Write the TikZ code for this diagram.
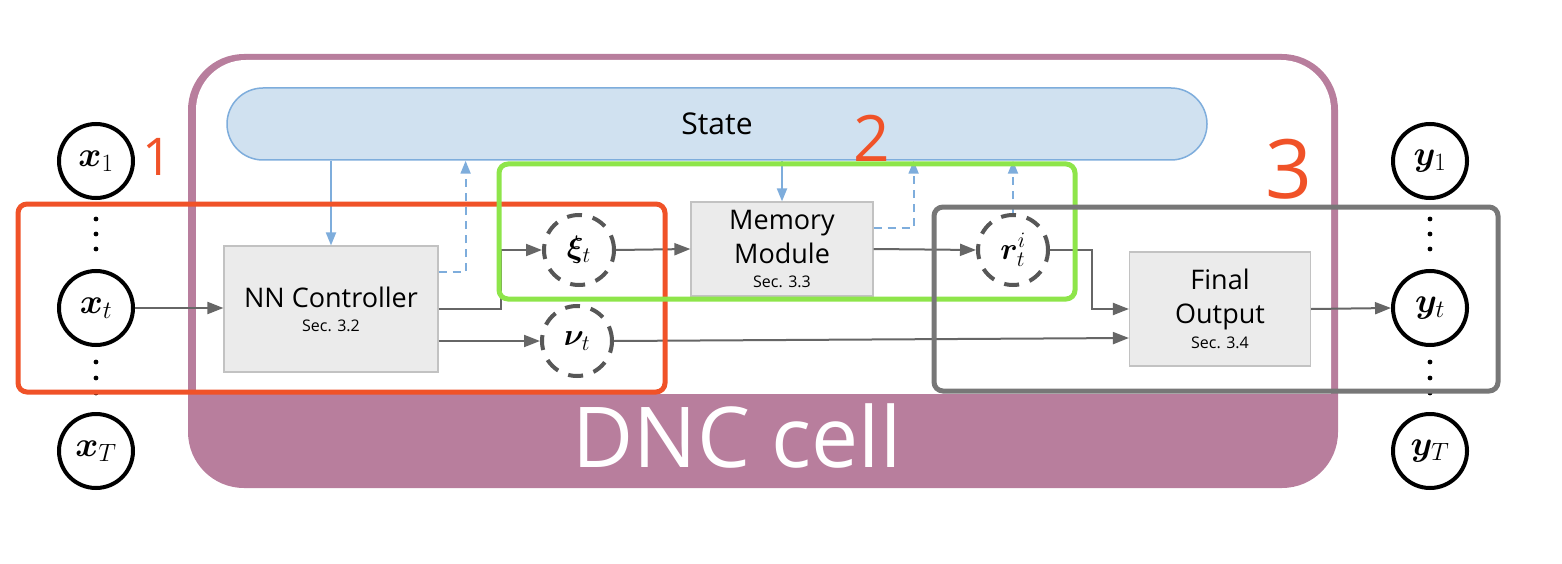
\RequirePackage{fix-cm}
\documentclass[tikz,border=0pt]{standalone}
\usepackage[no-math]{fontspec}
\setmainfont{Open Sans}
\usepackage{bm}
\usetikzlibrary{arrows.meta,calc}
\DeclareMathSizes{35}{35}{25}{18}
\DeclareMathSizes{31}{31}{22}{16}

\definecolor{cellpink}{HTML}{B87E9D}
\definecolor{statefill}{HTML}{D0E1F0}
\definecolor{stateline}{HTML}{7EADDC}
\definecolor{boxfill}{HTML}{EBEBEB}
\definecolor{boxline}{HTML}{C2C2C2}
\definecolor{flowgray}{HTML}{666666}
\definecolor{markorange}{HTML}{F05228}
\definecolor{markgreen}{HTML}{8EE54A}
\definecolor{markgray}{HTML}{777777}

\newcommand{\secsize}{\fontsize{16}{18}\selectfont}

\begin{document}
\begin{tikzpicture}[x=1pt,y=-1pt,
    io/.style={draw, circle, line width=4pt, minimum size=74pt, inner sep=0pt, font=\fontsize{35}{38}\selectfont},
    var/.style={draw=flowgray!85!black, circle, dash pattern=on 15pt off 11pt, line width=4pt, minimum size=70pt, inner sep=0pt, font=\fontsize{31}{34}\selectfont},
    block/.style={draw=boxline, fill=boxfill, line width=1.2pt, align=center, inner sep=0pt, font=\fontsize{27}{34}\selectfont},
    flow/.style={draw=flowgray, line width=2pt, -{Triangle[length=16pt,width=12pt]}},
    sflow/.style={draw=stateline, line width=2pt, -{Triangle[length=13pt,width=10pt]}},
    dflow/.style={sflow, dash pattern=on 8pt off 6pt},
    hl/.style={line width=5pt, rounded corners=9pt},
    hand/.style={text=markorange, inner sep=0pt}]
    \useasboundingbox (0,0) rectangle (1562,564);

    % DNC cell
    \fill[cellpink, rounded corners=56pt] (188,54) rectangle (1338,488);
    \fill[white, rounded corners=50pt] (196,60) rectangle (1331,440);
    \fill[cellpink] (196,394) rectangle (1331,441);
    \node[text=white, font=\fontsize{84}{90}\selectfont] (cell) at (737,436) {DNC cell};

    \node[draw=stateline, fill=statefill, line width=1.5pt, rounded corners=36pt,
          minimum width=980pt, minimum height=72pt, font=\fontsize{30}{36}\selectfont] (state) at (717,124) {State};

    % inputs and outputs
    \node[io] (x1) at (96,161) {$\bm{x}_1$};
    \node[io] (xt) at (96,308) {$\bm{x}_t$};
    \node[io] (xT) at (96,451) {$\bm{x}_T$};
    \node[io] (y1) at (1430,161) {$\bm{y}_1$};
    \node[io] (yt) at (1430,308) {$\bm{y}_t$};
    \node[io] (yT) at (1430,451) {$\bm{y}_T$};
    \foreach \px in {96,1430}
        \foreach \py in {219,234,249,362,378,393}
            \fill (\px,\py) circle (2.4pt);

    \node[block, minimum width=214pt, minimum height=126pt] (nn) at (331,309) {NN Controller\\[-10pt]{\secsize Sec. 3.2}};
    \node[block, minimum width=182pt, minimum height=94pt] (mem) at (782,249) {Memory\\Module\\[-10pt]{\secsize Sec. 3.3}};
    \node[block, minimum width=181pt, minimum height=114pt] (fin) at (1220,309) {Final\\Output\\[-9pt]{\secsize Sec. 3.4}};

    \node[var] (xi) at (579,250) {$\bm{\xi}_t$};
    \node[var] (nu) at (577,341) {$\bm{\nu}_t$};
    \node[var] (r) at (1013,250) {$\bm{r}_t^i$};

    % data flow
    \draw[flow] (xt.east) -- (xt.east -| nn.west);
    \draw[flow] (nn.east) -- ++(62,0) |- (xi.west);
    \draw[flow] ($(nn.east)+(0,32)$) -- (nu.west);
    \draw[flow] (xi.east) -- (mem.west);
    \draw[flow] (mem.east) -- (r.west);
    \draw[flow] (r.east) -- ++(42,0) |- (fin.west);
    \draw[flow] (nu.east) -- ($(fin.west)+(0,29)$);
    \draw[flow] (fin.east) -- (yt.west);

    % state read / write
    \draw[sflow] (nn.north |- state.south) -- (nn.north);
    \draw[sflow] (mem.north |- state.south) -- (mem.north);
    \draw[dflow] ($(nn.east)+(0,-37)$) -- ++(27,0) coordinate (nnw) -- (nnw |- state.south);
    \draw[dflow] ($(mem.east)+(0,-21)$) -- ++(40,0) coordinate (memw) -- (memw |- state.south);
    \draw[dflow] (r.north) -- (r.north |- state.south);

    % annotations
    \draw[hl, markorange] (18,204) rectangle (665,392);
    \draw[hl, markgreen] (499,164) rectangle (1075,299);
    \draw[hl, markgray] (934,207) rectangle (1498,391);
    \node[hand, font=\fontsize{52}{56}\selectfont] (one) at (157,157) {1};
    \node[hand, font=\fontsize{64}{68}\selectfont] (two) at (872,138) {2};
    \node[hand, font=\fontsize{82}{86}\selectfont] (three) at (1289,169) {3};
\end{tikzpicture}
\end{document}
